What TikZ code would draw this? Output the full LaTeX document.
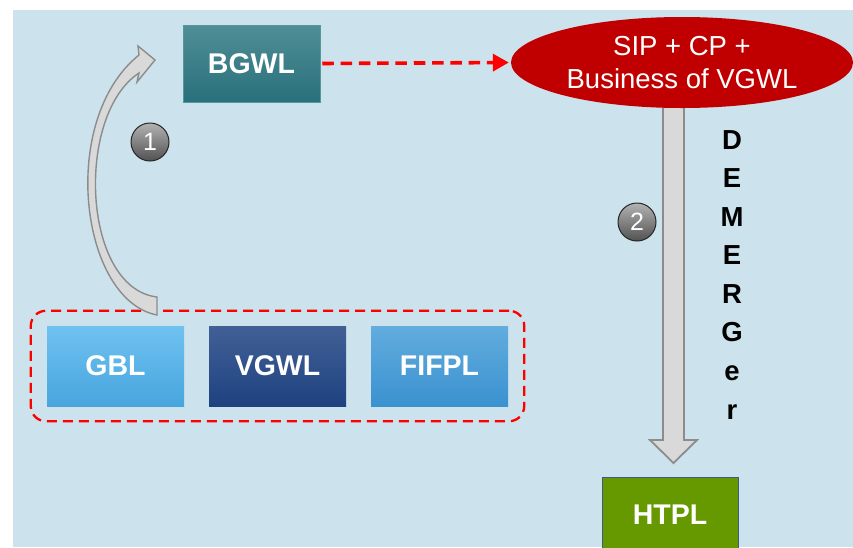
\documentclass[tikz,border=0pt]{standalone}
\usepackage{fontspec}
\setmainfont{Liberation Sans}
\usetikzlibrary{shapes.geometric,arrows.meta,calc,fit}
\definecolor{bgblue}{HTML}{CCE2EC}
\definecolor{redell}{HTML}{C00000}
\definecolor{dashred}{HTML}{FF0000}
\definecolor{htplgreen}{HTML}{669900}
\definecolor{arrowfill}{HTML}{D9D9D9}
\definecolor{arrowline}{HTML}{8C8C8C}
\begin{document}
\begin{tikzpicture}[x=1pt,y=1pt,
  box/.style={rectangle, minimum width=137pt, minimum height=80pt, inner sep=0pt,
              text=white, font=\fontsize{28.5}{30}\selectfont\bfseries},
  num/.style={circle, minimum size=38pt, inner sep=0pt, draw=black!85, line width=1pt,
              top color=black!30, bottom color=black!68, text=white,
              font=\fontsize{25}{25}\selectfont},
  demletter/.style={inner sep=0pt, anchor=base, font=\fontsize{27.5}{27.5}\selectfont\bfseries},
  reddash/.style={draw=dashred, line width=3.6pt, dash pattern=on 11.5pt off 6.8pt},
  blockarrow/.style={fill=arrowfill, draw=arrowline, line width=1.8pt, line join=miter}
]
\useasboundingbox (0,0) rectangle (853,-547);
\clip (0,0) rectangle (853,-547);
\fill[bgblue] (13,-10) rectangle (853,-547);

% coordinates for the demerger block arrow
\coordinate (dA) at (673.5,-104);
\coordinate (dB) at (673.5,-463);
\draw[blockarrow]
  ($(dA)+(-10.5,0)$) -- ($(dA)+(10.5,0)$) -- ($(dB)+(10.5,23)$) -- ($(dB)+(23.5,23)$)
  -- (dB) -- ($(dB)+(-23.5,23)$) -- ($(dB)+(-10.5,23)$) -- cycle;

% nodes
\node[box, minimum height=77pt, top color={rgb,255:red,80;green,142;blue,150},
      bottom color={rgb,255:red,40;green,112;blue,124},
      draw={rgb,255:red,90;green,150;blue,158}, line width=0.5pt] (bgwl) at (251.5,-63.5) {BGWL};
\node[ellipse, fill=redell, minimum width=342pt, minimum height=91pt, inner sep=0pt,
      text=white, align=center, font=\fontsize{27.5}{33}\selectfont] (ell) at (682,-62.5)
      {SIP + CP +\\Business of VGWL};
\node[box, top color={rgb,255:red,110;green,194;blue,240},
      bottom color={rgb,255:red,72;green,165;blue,222}] (gbl) at (115.5,-366) {GBL};
\node[box, top color={rgb,255:red,66;green,96;blue,150},
      bottom color={rgb,255:red,30;green,66;blue,128}] (vgwl) at (277.5,-366) {VGWL};
\node[box, top color={rgb,255:red,98;green,172;blue,222},
      bottom color={rgb,255:red,58;green,146;blue,208}] (fifpl) at (439.5,-366) {FIFPL};
\node[box, minimum width=136pt, minimum height=76pt, fill=htplgreen,
      draw={rgb,255:red,60;green,90;blue,130}, line width=0.6pt] (htpl) at (670,-515) {HTPL};

% dashed group
\node[fit=(gbl)(fifpl), inner xsep=16pt, inner ysep=15pt, rounded corners=15pt,
      draw=dashred, line width=2.3pt, dash pattern=on 10pt off 6pt] (grp) {};

% curved arrow 1
\coordinate (cTail) at (157,-306);
\coordinate (cTip) at (155,-60);
\draw[fill=arrowfill, draw=arrowline, line width=1.4pt]
  ($(cTail)+(0,-9)$) .. controls (80,-300) and (58,-120) .. (139,-55)
  -- (138,-46) -- (cTip) -- (137,-82) -- (139,-73)
  .. controls (75,-115) and (82,-288) .. ($(cTail)+(0,9)$) -- cycle;

% red dashed connector
\draw[reddash, -{Triangle[length=16pt,width=17pt]}, shorten <=2pt, shorten >=2pt]
  (bgwl.east) -- (ell.west);

% number circles
\node[num] (n1) at (150,-142) {1};
\node[num] (n2) at (637,-222) {2};

% DEMERGer letters
\foreach \l [count=\i] in {D,E,M,E,R,G,e,r}
  \node[demletter] (dem\i) at (732,{-149-(\i-1)*38.57}) {\l};
\end{tikzpicture}
\end{document}
